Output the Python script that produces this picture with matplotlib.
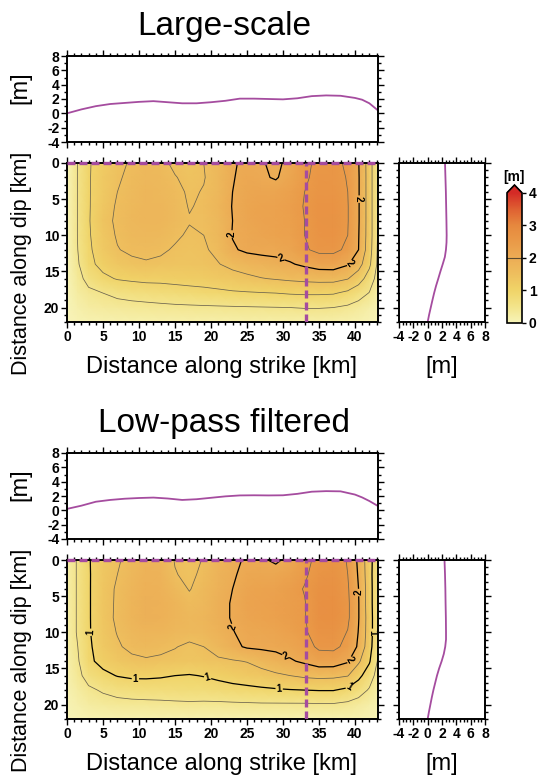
import numpy as np
import matplotlib.pyplot as plt
from matplotlib.colors import LinearSegmentedColormap, Normalize
from matplotlib.cm import ScalarMappable
from matplotlib.ticker import MultipleLocator

plt.rcParams['font.family'] = ['Liberation Sans', 'DejaVu Sans']
plt.rcParams['font.weight'] = 'bold'
plt.rcParams['axes.unicode_minus'] = False

# fault grid nodes [km]
strike_km = [0, 1.5, 3, 5, 7, 9, 11, 13, 15, 17, 19, 21, 23, 25, 27, 29, 31, 33, 35, 37, 39, 40.5, 42, 43.2]
dip_km = [0, 2, 4, 6, 8, 10, 12, 14, 16, 18, 20, 22]

# slip [m], one row per dip node
slip_large = [
    [0.00, 0.52, 0.96, 1.20, 1.40, 1.55, 1.65, 1.60, 1.42, 1.35, 1.50, 1.65, 1.98, 2.04, 2.03, 1.92, 2.10, 2.45, 2.55, 2.58, 2.45, 2.02, 1.25, 0.45],
    [0.02, 0.52, 0.96, 1.25, 1.45, 1.60, 1.70, 1.66, 1.52, 1.40, 1.48, 1.68, 1.98, 2.10, 2.06, 1.96, 2.18, 2.45, 2.60, 2.62, 2.48, 2.04, 1.25, 0.45],
    [0.02, 0.52, 0.96, 1.28, 1.50, 1.63, 1.72, 1.70, 1.60, 1.45, 1.52, 1.70, 2.00, 2.15, 2.20, 2.20, 2.30, 2.50, 2.65, 2.65, 2.50, 2.04, 1.25, 0.45],
    [0.02, 0.52, 0.96, 1.30, 1.55, 1.66, 1.74, 1.72, 1.64, 1.48, 1.55, 1.72, 2.02, 2.18, 2.25, 2.28, 2.35, 2.52, 2.68, 2.68, 2.52, 2.04, 1.25, 0.45],
    [0.02, 0.52, 0.96, 1.38, 1.56, 1.68, 1.74, 1.72, 1.64, 1.52, 1.52, 1.70, 2.00, 2.16, 2.24, 2.28, 2.34, 2.50, 2.68, 2.70, 2.52, 2.04, 1.25, 0.45],
    [0.02, 0.52, 0.95, 1.30, 1.54, 1.65, 1.70, 1.66, 1.56, 1.45, 1.50, 1.68, 2.02, 2.12, 2.20, 2.25, 2.30, 2.50, 2.66, 2.68, 2.50, 2.02, 1.25, 0.45],
    [0.02, 0.50, 0.92, 1.25, 1.48, 1.58, 1.62, 1.56, 1.46, 1.40, 1.45, 1.60, 1.95, 2.08, 2.12, 2.12, 2.20, 2.45, 2.60, 2.60, 2.42, 2.00, 1.22, 0.42],
    [0.02, 0.45, 0.88, 1.14, 1.30, 1.40, 1.45, 1.42, 1.38, 1.38, 1.40, 1.48, 1.62, 1.72, 1.80, 1.88, 1.96, 2.08, 2.20, 2.22, 2.04, 1.70, 1.10, 0.40],
    [0.02, 0.35, 0.65, 0.90, 1.03, 1.08, 1.12, 1.12, 1.15, 1.18, 1.20, 1.25, 1.32, 1.40, 1.48, 1.53, 1.58, 1.62, 1.65, 1.65, 1.52, 1.22, 0.78, 0.30],
    [0.02, 0.25, 0.40, 0.50, 0.60, 0.66, 0.70, 0.74, 0.78, 0.82, 0.86, 0.90, 0.94, 0.96, 0.98, 1.00, 1.04, 1.06, 1.06, 1.04, 0.90, 0.70, 0.48, 0.18],
    [0.01, 0.15, 0.24, 0.30, 0.34, 0.36, 0.38, 0.40, 0.42, 0.43, 0.44, 0.45, 0.46, 0.47, 0.48, 0.49, 0.50, 0.52, 0.52, 0.50, 0.42, 0.32, 0.20, 0.08],
    [0.01, 0.05, 0.08, 0.10, 0.12, 0.13, 0.14, 0.15, 0.15, 0.16, 0.16, 0.17, 0.17, 0.18, 0.18, 0.18, 0.18, 0.18, 0.18, 0.16, 0.14, 0.10, 0.06, 0.03],
]

slip_lowpass = [
    [0.20, 0.55, 0.96, 1.30, 1.45, 1.65, 1.80, 1.75, 1.48, 1.40, 1.52, 1.75, 1.90, 2.06, 2.05, 1.94, 2.10, 2.40, 2.60, 2.65, 2.48, 1.90, 1.20, 0.60],
    [0.20, 0.55, 0.95, 1.32, 1.50, 1.70, 1.85, 1.80, 1.52, 1.42, 1.58, 1.80, 1.95, 2.12, 2.15, 2.15, 2.25, 2.45, 2.65, 2.70, 2.50, 1.95, 1.20, 0.55],
    [0.20, 0.55, 0.95, 1.33, 1.55, 1.72, 1.87, 1.85, 1.65, 1.48, 1.65, 1.85, 2.00, 2.20, 2.25, 2.28, 2.38, 2.52, 2.72, 2.75, 2.55, 2.00, 1.22, 0.55],
    [0.20, 0.55, 0.95, 1.33, 1.56, 1.75, 1.88, 1.86, 1.75, 1.60, 1.70, 1.88, 2.03, 2.22, 2.28, 2.32, 2.38, 2.48, 2.75, 2.78, 2.58, 2.02, 1.22, 0.55],
    [0.20, 0.55, 0.95, 1.33, 1.57, 1.76, 1.88, 1.86, 1.78, 1.68, 1.72, 1.88, 2.03, 2.20, 2.26, 2.30, 2.38, 2.48, 2.75, 2.78, 2.58, 2.02, 1.25, 0.55],
    [0.20, 0.55, 0.95, 1.30, 1.52, 1.70, 1.78, 1.76, 1.70, 1.66, 1.68, 1.82, 1.98, 2.12, 2.15, 2.20, 2.30, 2.45, 2.68, 2.70, 2.48, 1.98, 1.25, 0.55],
    [0.20, 0.50, 0.92, 1.25, 1.45, 1.60, 1.65, 1.60, 1.52, 1.42, 1.50, 1.70, 1.90, 2.05, 2.08, 2.10, 2.18, 2.32, 2.58, 2.60, 2.38, 1.92, 1.20, 0.52],
    [0.15, 0.45, 0.90, 1.15, 1.30, 1.40, 1.45, 1.42, 1.38, 1.35, 1.38, 1.42, 1.46, 1.52, 1.68, 1.82, 1.95, 2.08, 2.25, 2.25, 2.05, 1.58, 1.05, 0.45],
    [0.12, 0.38, 0.68, 0.88, 1.02, 1.08, 1.08, 1.05, 1.00, 0.97, 1.02, 1.10, 1.18, 1.25, 1.32, 1.42, 1.50, 1.58, 1.62, 1.60, 1.52, 1.12, 0.75, 0.30],
    [0.08, 0.25, 0.42, 0.55, 0.65, 0.70, 0.72, 0.73, 0.74, 0.76, 0.76, 0.80, 0.85, 0.88, 0.92, 0.95, 0.98, 1.00, 1.02, 1.02, 0.90, 0.72, 0.45, 0.20],
    [0.05, 0.15, 0.25, 0.32, 0.36, 0.38, 0.39, 0.40, 0.42, 0.43, 0.42, 0.42, 0.43, 0.44, 0.45, 0.45, 0.45, 0.45, 0.46, 0.46, 0.40, 0.30, 0.20, 0.10],
    [0.02, 0.05, 0.08, 0.10, 0.12, 0.12, 0.12, 0.12, 0.12, 0.12, 0.12, 0.12, 0.12, 0.12, 0.12, 0.12, 0.12, 0.10, 0.10, 0.10, 0.10, 0.08, 0.06, 0.03],
]

# slip along the top edge of the fault
top_strike = [0, 2, 4, 6, 8, 10, 12, 14, 16, 18, 20, 22, 24, 26, 28, 30, 32, 34, 36, 38, 40, 41, 42, 43.2]
top_slip_large = [0.0, 0.55, 1.0, 1.3, 1.45, 1.6, 1.7, 1.55, 1.4, 1.4, 1.55, 1.75, 2.05, 2.05, 2.0, 1.95,
                  2.1, 2.4, 2.5, 2.45, 2.15, 1.9, 1.4, 0.4]
top_slip_lowpass = [0.2, 0.65, 1.2, 1.45, 1.62, 1.72, 1.78, 1.65, 1.45, 1.55, 1.75, 1.95, 2.08, 2.1, 2.08, 2.1,
                    2.3, 2.6, 2.68, 2.65, 2.2, 1.8, 1.3, 0.6]

# slip down-dip along the section at strike = SECTION_STRIKE
SECTION_STRIKE = 33.2
sec_depth = [0, 2, 4, 6, 8, 10, 11, 12, 13, 14, 15, 16, 17, 18, 19, 20, 21, 22]
sec_slip_large = [2.42, 2.48, 2.54, 2.58, 2.62, 2.65, 2.63, 2.55, 2.4, 2.1, 1.78, 1.48, 1.17, 0.9, 0.66, 0.43, 0.2, 0.0]
sec_slip_lowpass = [2.35, 2.42, 2.47, 2.5, 2.54, 2.56, 2.56, 2.45, 2.25, 1.95, 1.6, 1.3, 1.05, 0.8, 0.58, 0.38, 0.18, 0.0]

# where the annotated contour labels go (strike, dip)
labels_large = [(22.6, 9.8), (29.8, 13.0), (39.5, 14.0), (40.7, 5.0)]
labels_lowpass = [(3.2, 10.0), (9.5, 16.6), (19.5, 16.4), (29.5, 17.4), (39.5, 18.0), (42.4, 10.0),
                  (22.5, 9.5), (30.5, 13.0), (39.6, 14.0), (40.6, 4.5)]

PURPLE = '#a54c9f'
W, H = 541, 778

cmap = LinearSegmentedColormap.from_list('slip', [
    (0.0, '#f7f4b8'), (0.125, '#f3e48a'), (0.25, '#f0d468'), (0.375, '#eebf5e'),
    (0.5, '#ecac55'), (0.625, '#ea9a48'), (0.75, '#e6883e'), (0.875, '#df6132'), (1.0, '#d42a26')])
norm = Normalize(0, 4)

fig = plt.figure(figsize=(W / 100, H / 100), dpi=100)


def add_box(x0, y0, x1, y1):
    return fig.add_axes([x0 / W, 1 - y1 / H, (x1 - x0) / W, (y1 - y0) / H])


def frame(ax, xmaj, xmin, ymaj, ymin):
    ax.xaxis.set_major_locator(MultipleLocator(xmaj))
    ax.xaxis.set_minor_locator(MultipleLocator(xmin))
    ax.yaxis.set_major_locator(MultipleLocator(ymaj))
    ax.yaxis.set_minor_locator(MultipleLocator(ymin))
    ax.tick_params(which='both', direction='out', top=True, right=True, width=1.0,
                   labelsize=10, pad=1.5)
    ax.tick_params(which='major', length=4)
    ax.tick_params(which='minor', length=2)
    for s in ax.spines.values():
        s.set_linewidth(1.4)


def text(x, y, s, size, weight='normal', **kw):
    fig.text(x / W, 1 - y / H, s, fontsize=size, fontweight=weight, **kw)


def panel(y0, title, grid, top_slip, sec_slip, bold_levels, label_pos, colorbar=False):
    xmax, ymax = strike_km[-1], dip_km[-1]

    text(224, y0 + 35, title, 24, ha='center', va='baseline')

    # along-strike profile
    axp = add_box(67, y0 + 56, 378, y0 + 142)
    axp.plot(top_strike, top_slip, color=PURPLE, lw=1.3)
    axp.set_xlim(0, xmax)
    axp.set_ylim(-4, 8)
    frame(axp, 5, 1, 2, 1)
    axp.tick_params(labelbottom=False)
    text(20, y0 + 88, '[m]', 17, ha='center', va='center', rotation=90)

    # slip map
    ax = add_box(67, y0 + 163, 378, y0 + 322)
    ax.pcolormesh(strike_km, dip_km, grid, cmap=cmap, norm=norm, shading='gouraud')
    thin = [lv for lv in [0.5, 1, 1.5, 2, 2.5] if lv not in bold_levels]
    ax.contour(strike_km, dip_km, grid, levels=thin, colors='#6a624e', linewidths=0.55)
    cs = ax.contour(strike_km, dip_km, grid, levels=bold_levels, colors='k', linewidths=0.9)
    ax.clabel(cs, fmt='%d', fontsize=7, inline_spacing=1, manual=label_pos)
    ax.axhline(0, color=PURPLE, lw=2.4, ls=(0, (2.4, 1.2)), clip_on=False, zorder=6)
    ax.axvline(SECTION_STRIKE, color=PURPLE, lw=2.4, ls=(0, (2.4, 1.2)), zorder=6)
    ax.set_xlim(0, xmax)
    ax.set_ylim(ymax, 0)
    frame(ax, 5, 1, 5, 1)
    text(222, y0 + 373, 'Distance along strike [km]', 17, ha='center', va='baseline')
    text(22, y0 + 263, 'Distance along dip [km]', 15.5, ha='center', va='center', rotation=90)

    # down-dip section
    axs = add_box(399, y0 + 163, 485, y0 + 322)
    axs.plot(sec_slip, sec_depth, color=PURPLE, lw=1.3)
    axs.set_xlim(-4, 8)
    axs.set_ylim(ymax, 0)
    frame(axs, 2, 0.5, 5, 1)
    axs.tick_params(labelleft=False)
    text(442, y0 + 367, '[m]', 17, ha='center', va='center')

    if colorbar:
        cax = add_box(507, y0 + 185, 522, y0 + 323)
        cb = fig.colorbar(ScalarMappable(norm=norm, cmap=cmap), cax=cax, extend='max',
                          extendfrac=0.06, ticks=[0, 1, 2, 3, 4])
        cb.outline.set_linewidth(1.2)
        cb.ax.tick_params(labelsize=10, length=3, width=1, pad=2)
        cb.ax.axhline(2, color='#5a4a30', lw=0.8)
        text(514, y0 + 177, '[m]', 10, weight='bold', ha='center', va='center')


panel(0, 'Large-scale', slip_large, top_slip_large, sec_slip_large, [2], labels_large, colorbar=True)
panel(397, 'Low-pass filtered', slip_lowpass, top_slip_lowpass, sec_slip_lowpass, [1, 2], labels_lowpass)

fig.savefig('out.png', dpi=100)
